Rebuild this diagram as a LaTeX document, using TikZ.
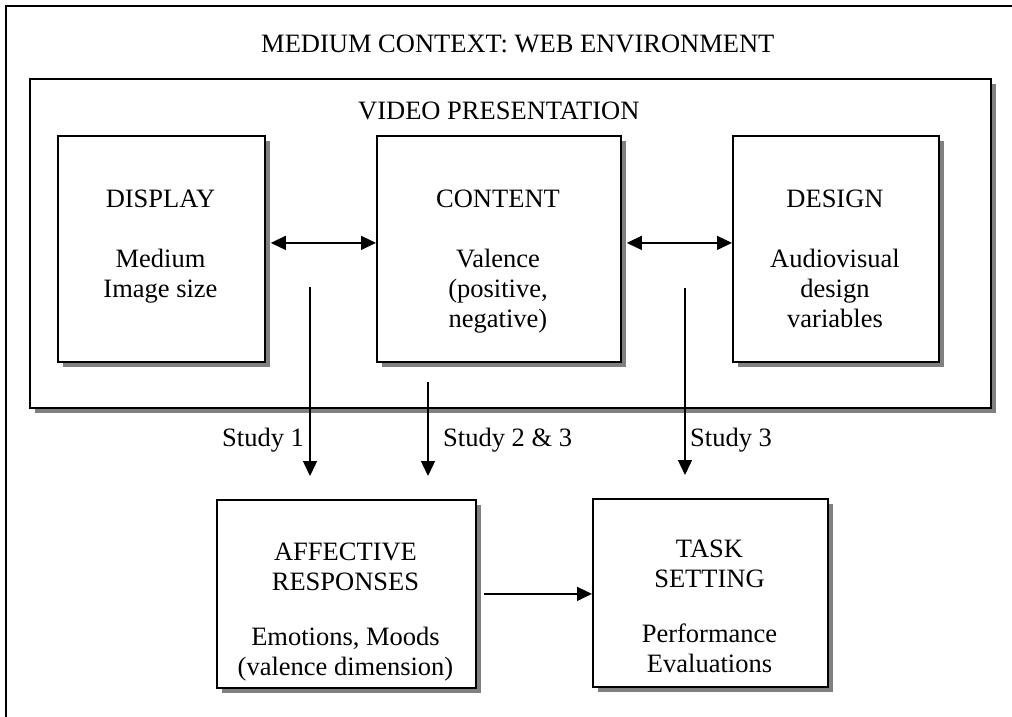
\documentclass[tikz,border=0pt]{standalone}
\usepackage{fontspec}
\setmainfont{Liberation Serif}
\usetikzlibrary{arrows.meta,shadows}
\begin{document}
\begin{tikzpicture}[x=1pt,y=-1pt,
  box/.style={draw, line width=1.8pt, fill=white, inner sep=0pt, anchor=north west,
    drop shadow={shadow xshift=5pt, shadow yshift=-5pt, fill=black!50, opacity=1}},
  txt/.style={font=\fontsize{26.5}{30}\selectfont, align=center, inner sep=0pt, anchor=base},
  lbl/.style={font=\fontsize{26.5}{30}\selectfont, inner sep=0pt, anchor=base west},
  tip/.tip={Triangle[length=15pt,width=14pt]},
  link/.style={line width=1.4pt, -tip},
  both/.style={line width=1.4pt, tip-tip}]
\useasboundingbox (0,0) rectangle (1012,716);
\clip (0,0) rectangle (1012,716);
\node[draw, line width=1.5pt, minimum width=1100pt, minimum height=800pt, anchor=north west, inner sep=0pt] (env) at (5,5) {};
\node[lbl] (envt) at (261,52) {MEDIUM CONTEXT: WEB ENVIRONMENT};
\node[box, minimum width=961pt, minimum height=329pt] (video) at (29,78) {};
\node[lbl] (videot) at (358,119) {VIDEO PRESENTATION};
\node[box, minimum width=207pt, minimum height=226pt] (display) at (57,135) {};
\node[box, minimum width=244pt, minimum height=226pt] (content) at (376,135) {};
\node[box, minimum width=206pt, minimum height=226pt] (design) at (732,135) {};
\node[box, minimum width=259pt, minimum height=188pt] (affective) at (216,499) {};
\node[box, minimum width=235pt, minimum height=188pt] (task) at (592,498) {};
\node[txt] (displayt) at (160.5,297) {DISPLAY\\[30pt]Medium\\Image size};
\node[txt] (contentt) at (498,327) {CONTENT\\[30pt]Valence\\(positive,\\negative)};
\node[txt] (designt) at (835,327) {DESIGN\\[30pt]Audiovisual\\design\\variables};
\node[txt] (affectivet) at (345.5,675) {AFFECTIVE\\RESPONSES\\[25pt]Emotions, Moods\\(valence dimension)};
\node[txt] (taskt) at (709.5,672) {TASK\\SETTING\\[25pt]Performance\\Evaluations};
\draw[both] ([xshift=5pt,yshift=6pt]display.east) -- ([yshift=6pt]display.east -| content.west);
\draw[both] ([xshift=5pt,yshift=6pt]content.east) -- ([yshift=6pt]content.east -| design.west);
\draw[link] ([xshift=7pt]affective.east) -- (affective.east -| task.west);
\coordinate (s1a) at (310,287); \coordinate (s1b) at (310,476);
\coordinate (s2a) at (428,382); \coordinate (s2b) at (428,476);
\coordinate (s3a) at (685,288); \coordinate (s3b) at (685,475);
\draw[link] (s1a) -- (s1b);
\draw[link] (s2a) -- (s2b);
\draw[link] (s3a) -- (s3b);
\node[lbl] (l1) at (222,446) {Study 1};
\node[lbl] (l2) at (443,446) {Study 2 \& 3};
\node[lbl] (l3) at (690,446) {Study 3};
\end{tikzpicture}
\end{document}
